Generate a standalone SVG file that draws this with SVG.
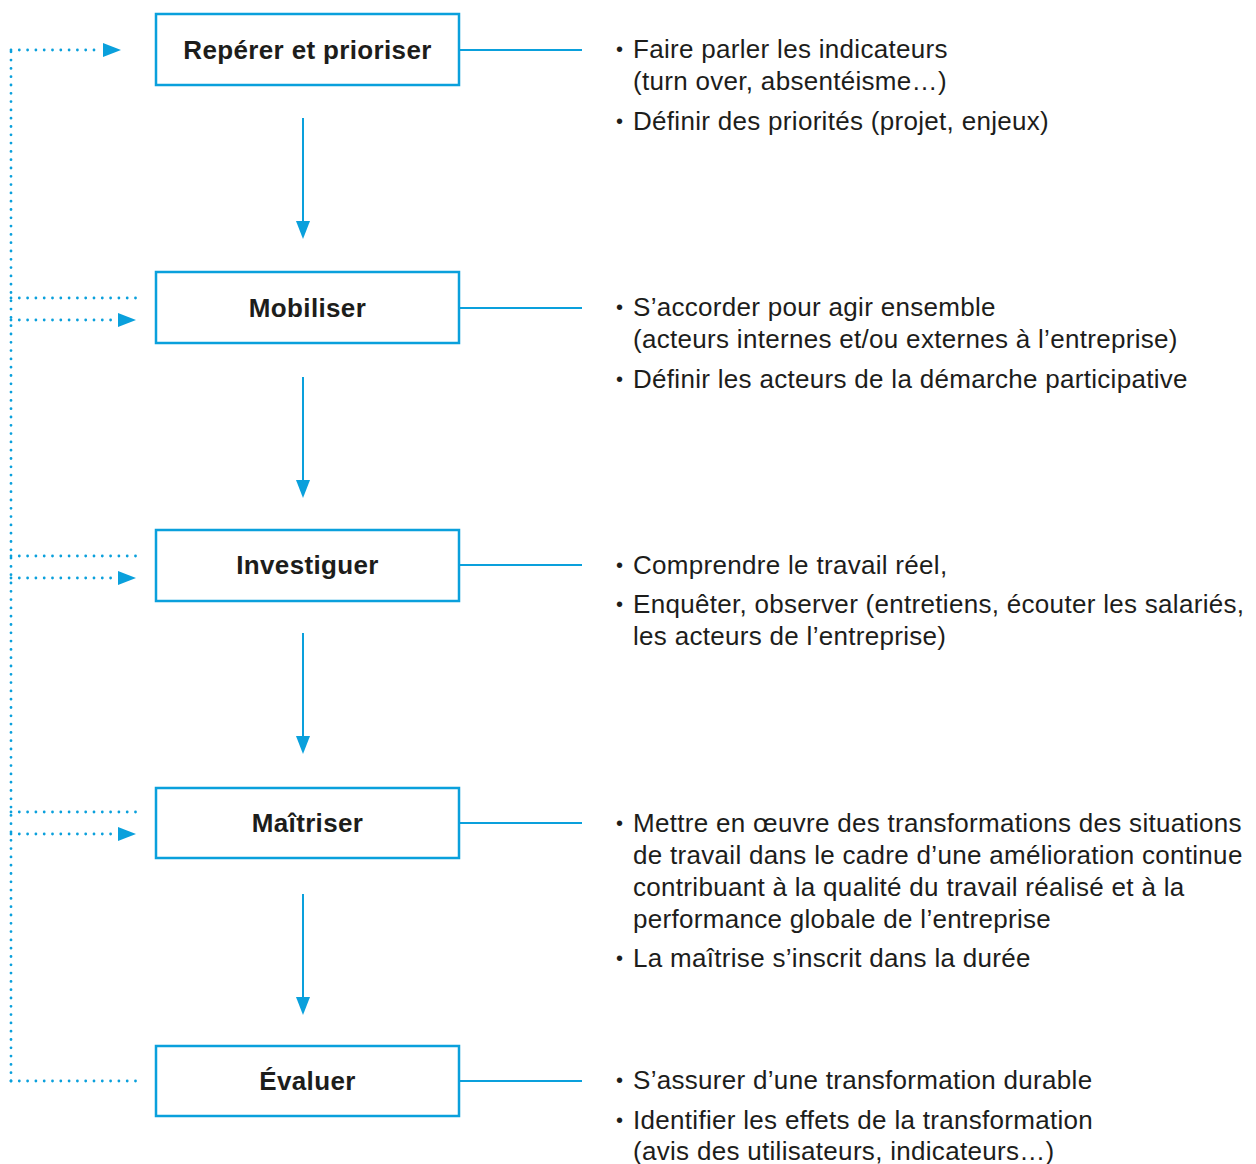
<svg xmlns="http://www.w3.org/2000/svg" width="1256" height="1164" viewBox="0 0 1256 1164">
<style>
.box{fill:#fff;stroke:#0aa0dc;stroke-width:2.5}
.lbl{font-family:"Liberation Sans",Arial,sans-serif;font-weight:bold;font-size:26px;letter-spacing:0.35px;fill:#1d1d1b;text-anchor:middle}
.txt{font-family:"Liberation Sans",Arial,sans-serif;font-size:26px;letter-spacing:0.3px;fill:#1d1d1b}
.bul{font-family:"Liberation Sans",Arial,sans-serif;font-size:20px;fill:#1d1d1b}
.ln{stroke:#0aa0dc;stroke-width:2;fill:none}
.dot{stroke:#0aa0dc;stroke-width:2.8;fill:none;stroke-dasharray:0 8.3;stroke-linecap:round}
</style>
<g id="connectors">
<line class="ln" x1="459" y1="50" x2="582" y2="50"/>
<line class="ln" x1="459" y1="308" x2="582" y2="308"/>
<line class="ln" x1="459" y1="565" x2="582" y2="565"/>
<line class="ln" x1="459" y1="823" x2="582" y2="823"/>
<line class="ln" x1="459" y1="1081" x2="582" y2="1081"/>
<line class="ln" x1="303" y1="118" x2="303" y2="222"/>
<path d="M296,221 L310,221 L303,239 Z" fill="#0aa0dc"/>
<line class="ln" x1="303" y1="377" x2="303" y2="481"/>
<path d="M296,480 L310,480 L303,498 Z" fill="#0aa0dc"/>
<line class="ln" x1="303" y1="633" x2="303" y2="737"/>
<path d="M296,736 L310,736 L303,754 Z" fill="#0aa0dc"/>
<line class="ln" x1="303" y1="894" x2="303" y2="998"/>
<path d="M296,997 L310,997 L303,1015 Z" fill="#0aa0dc"/>
<line class="dot" x1="11" y1="1081" x2="11" y2="50"/>
<line class="dot" x1="11" y1="50" x2="102" y2="50"/>
<path d="M103,43 L121,50 L103,57 Z" fill="#0aa0dc"/>
<line class="dot" x1="11" y1="298" x2="136" y2="298"/>
<line class="dot" x1="11" y1="320" x2="116" y2="320"/>
<path d="M118,313 L136,320 L118,327 Z" fill="#0aa0dc"/>
<line class="dot" x1="11" y1="556" x2="136" y2="556"/>
<line class="dot" x1="11" y1="578" x2="116" y2="578"/>
<path d="M118,571 L136,578 L118,585 Z" fill="#0aa0dc"/>
<line class="dot" x1="11" y1="812" x2="136" y2="812"/>
<line class="dot" x1="11" y1="834" x2="116" y2="834"/>
<path d="M118,827 L136,834 L118,841 Z" fill="#0aa0dc"/>
<line class="dot" x1="11" y1="1081" x2="136" y2="1081"/>
</g>
<g id="node1">
<rect class="box" x="156" y="14" width="303" height="71"/>
<text class="lbl" x="307.5" y="59">Repérer et prioriser</text>
</g>
<g id="node2">
<rect class="box" x="156" y="272" width="303" height="71"/>
<text class="lbl" x="307.5" y="317">Mobiliser</text>
</g>
<g id="node3">
<rect class="box" x="156" y="530" width="303" height="71"/>
<text class="lbl" x="307.5" y="574">Investiguer</text>
</g>
<g id="node4">
<rect class="box" x="156" y="788" width="303" height="70"/>
<text class="lbl" x="307.5" y="832">Maîtriser</text>
</g>
<g id="node5">
<rect class="box" x="156" y="1046" width="303" height="70"/>
<text class="lbl" x="307.5" y="1090">Évaluer</text>
</g>
<g id="text1" class="txt">
<text class="bul" x="616" y="56">•</text><text x="633" y="58">Faire parler les indicateurs</text>
<text x="633" y="90">(turn over, absentéisme…)</text>
<text class="bul" x="616" y="128">•</text><text x="633" y="130">Définir des priorités (projet, enjeux)</text>
</g>
<g id="text2" class="txt">
<text class="bul" x="616" y="314">•</text><text x="633" y="316">S’accorder pour agir ensemble</text>
<text x="633" y="348">(acteurs internes et/ou externes à l’entreprise)</text>
<text class="bul" x="616" y="386">•</text><text x="633" y="388">Définir les acteurs de la démarche participative</text>
</g>
<g id="text3" class="txt">
<text class="bul" x="616" y="572">•</text><text x="633" y="574">Comprendre le travail réel,</text>
<text class="bul" x="616" y="611">•</text><text x="633" y="613">Enquêter, observer (entretiens, écouter les salariés,</text>
<text x="633" y="645">les acteurs de l’entreprise)</text>
</g>
<g id="text4" class="txt">
<text class="bul" x="616" y="830">•</text><text x="633" y="832">Mettre en œuvre des transformations des situations</text>
<text x="633" y="864">de travail dans le cadre d’une amélioration continue</text>
<text x="633" y="896">contribuant à la qualité du travail réalisé et à la</text>
<text x="633" y="928">performance globale de l’entreprise</text>
<text class="bul" x="616" y="965">•</text><text x="633" y="967">La maîtrise s’inscrit dans la durée</text>
</g>
<g id="text5" class="txt">
<text class="bul" x="616" y="1087">•</text><text x="633" y="1089">S’assurer d’une transformation durable</text>
<text class="bul" x="616" y="1127">•</text><text x="633" y="1129">Identifier les effets de la transformation</text>
<text x="633" y="1160">(avis des utilisateurs, indicateurs…)</text>
</g>
</svg>
